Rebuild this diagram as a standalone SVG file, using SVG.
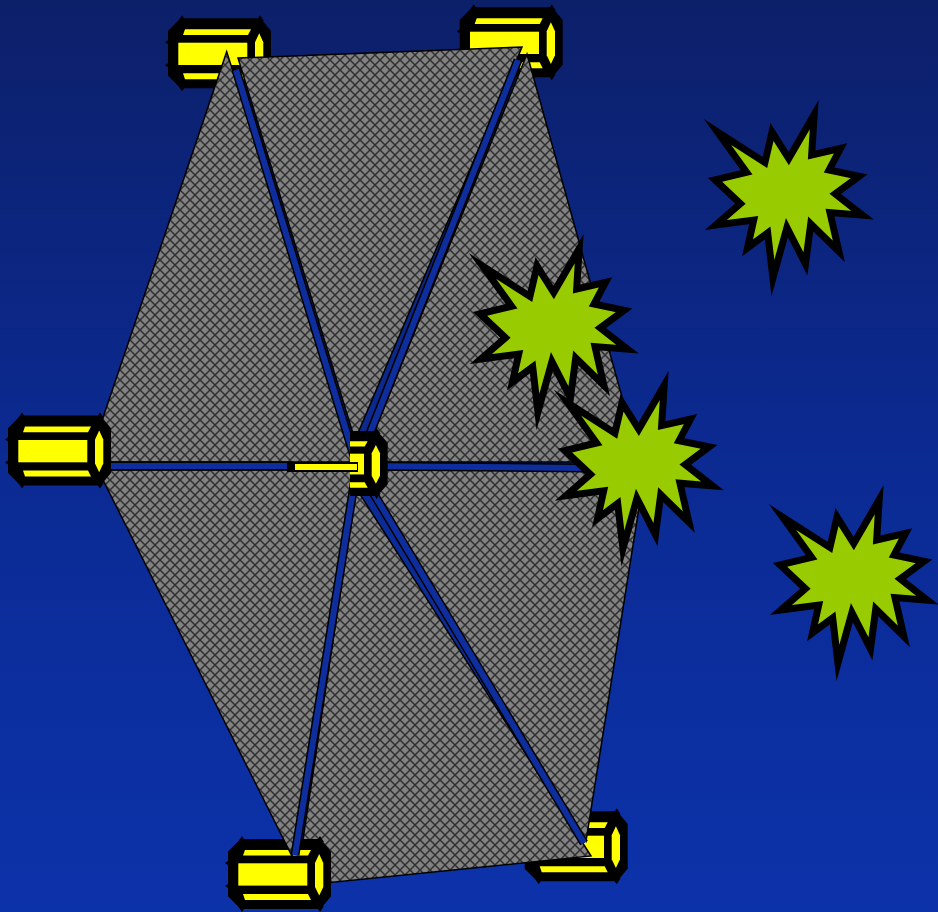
<svg xmlns="http://www.w3.org/2000/svg" xmlns:xlink="http://www.w3.org/1999/xlink" width="938" height="912" viewBox="0 0 938 912">
<defs>
<linearGradient id="bg" x1="0" y1="0" x2="0" y2="1">
<stop offset="0" stop-color="#0c1f69"/>
<stop offset="0.5" stop-color="#0b2a92"/>
<stop offset="1" stop-color="#0c32aa"/>
</linearGradient>
<pattern id="hatch" width="10" height="10" patternUnits="userSpaceOnUse">
<rect width="10" height="10" fill="#828282"/>
<path d="M-1,-1 L11,11 M11,-1 L-1,11" stroke="#303030" stroke-width="1.5"/>
</pattern>
<g id="cyl">
<polygon points="13,1 92,1 102,13 102,57 92,69 13,69 1,57 1,13" fill="#000" stroke="#000" stroke-width="2"/>
<path d="M10,3 L14,-3 L18,3 Z M88,3 L92,-3 L96,3 Z M10,67 L14,73 L18,67 Z M88,67 L92,73 L96,67 Z M3,20 L-3,24 L3,28 Z M3,43 L-3,47 L3,51 Z" fill="#000"/>
<polygon points="17,11 83,11 80,16.7 15,16.7" fill="#ffff00"/>
<rect x="10.3" y="24.4" width="69" height="22.3" fill="#ffff00"/>
<polygon points="15,55 80,55 83,61 17,61" fill="#ffff00"/>
<polygon points="91.2,15 95.3,24 95.3,48 91.2,56.7 87,48 87,24" fill="#ffff00"/>
</g>
<path id="burst" d="M73.75,43.85 L99.17,0 L96.66,40.26 L125.51,33.70 L114.05,55.30 L144.07,61.52 L120.23,79.19 L147.5,100.48 L114.98,97.84 L123.91,136.80 L95.74,109.30 L90.46,149.22 L71.92,112.91 L57.94,163.3 L52.68,118.14 L32.52,133.19 L38.70,105.37 L0.92,110.28 L25.42,89.02 L0,65.13 L31.60,57.59 L2.53,17.35 L49.93,47.78 L57.03,17.35 Z"/>
<clipPath id="cclip"><rect x="350" y="420" width="60" height="90"/></clipPath>
</defs>
<style>
.tri{fill:url(#hatch);stroke:#000;stroke-width:1.5;stroke-linejoin:miter}
.sp-o{stroke:#000;stroke-width:9;stroke-linecap:butt;fill:none}
.sp-i{stroke:#0e2e9e;stroke-width:6;stroke-linecap:butt;fill:none}
.burst{fill:#99cc00;stroke:#000;stroke-width:7;stroke-linejoin:miter;stroke-miterlimit:12}
</style>
<rect id="background" width="938" height="912" fill="url(#bg)"/>
<g id="server-top-left"><use xlink:href="#cyl" transform="translate(168,18.3)"/></g>
<g id="server-top-right"><use xlink:href="#cyl" transform="translate(459.7,7.3)"/></g>
<g id="server-bottom-right"><use xlink:href="#cyl" transform="translate(524.7,811.3)"/></g>
<g id="wedge-right-top"><polygon class="tri" points="527,54 640,462 362,462"/></g>
<g id="wedge-right-bottom"><polygon class="tri" points="362,470 645,470 586,841"/></g>
<g id="wedge-bottom"><polygon class="tri" points="356,488 296,886 591,856"/></g>
<g id="server-bottom"><use xlink:href="#cyl" transform="translate(228,838.9)"/></g>
<g id="wedge-left-top"><polygon class="tri" points="226.7,51.7 357,462 88,462"/></g>
<g id="wedge-top"><polygon class="tri" points="238,58 522,47 355,440"/></g>
<g id="wedge-left-bottom"><polygon class="tri" points="98,470 357,470 292,856"/></g>
<g id="connectors">
<path class="sp-o" d="M357,466 L236,70 M357,466 L518,60 M357,466 L585,468 M357,466 L295,855 M357,466 L584,843 M110,466 L292,466"/>
<path class="sp-i" d="M357,466 L236,70 M357,466 L518,60 M357,466 L585,468 M357,466 L295,855 M357,466 L584,843 M110,466 L292,466"/>
</g>
<g id="server-center">
<g clip-path="url(#cclip)"><use xlink:href="#cyl" transform="translate(284.7,431) scale(1,0.93)"/></g>
<line x1="287" y1="467" x2="358" y2="467" stroke="#000" stroke-width="10"/>
<line x1="295" y1="467" x2="357" y2="467" stroke="#ffff00" stroke-width="6"/>
</g>
<g id="server-left"><use xlink:href="#cyl" transform="translate(8,415.6)"/></g>
<g id="burst-1"><use xlink:href="#burst" class="burst" transform="translate(715,114.7)"/></g>
<g id="burst-2"><use xlink:href="#burst" class="burst" transform="translate(480,248.7)"/></g>
<g id="burst-3"><use xlink:href="#burst" class="burst" transform="translate(565,385.4)"/></g>
<g id="burst-4"><use xlink:href="#burst" class="burst" transform="translate(780,499.7)"/></g>
</svg>
